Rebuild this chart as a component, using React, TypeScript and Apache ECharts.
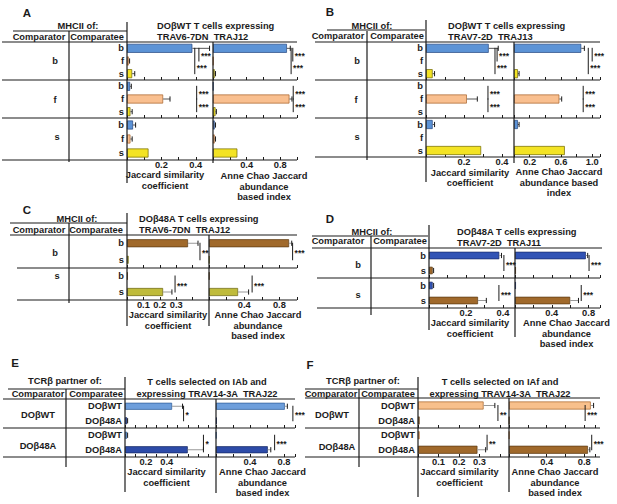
import React, { useEffect, useRef } from "react";
import * as echarts from "echarts";

const FONT = '"Liberation Sans", Arial, Helvetica, sans-serif';
const FS = 9.3;
const INK = "#1b1b1b";

// ---------- categories ----------
const rowsBFS = ["b", "f", "s"];
const rowsBS = ["b", "s"];
const rowsTCR = ["DOβWT", "DOβ48A"];

const jacName = "Jaccard similarity\ncoefficient";
const anneName = "Anne Chao Jaccard\nabundance\nbased index";
const anneNameB = "Anne Chao Jaccard\nabundance based\nindex";

// ---------- Panel A ----------
const aGroups = ["b", "f", "s"];
const aJac = [[0.38, 0.01, 0.03], [0.018, 0.21, 0.02], [0.035, 0.02, 0.125]];
const aJacErr = [[0.48, 0.015, 0.045], [0.025, 0.25, 0.03], [0.05, 0.03, 0.125]];
const aAnne = [[0.88, 0.005, 0.02], [0.005, 0.91, 0.03], [0.02, 0.02, 0.29]];
const aAnneErr = [[0.92, 0.005, 0.03], [0.005, 0.94, 0.04], [0.03, 0.03, 0.29]];
const aJacSig = [[0, 0, 1, 0.418, "***"], [0, 0, 2, 0.394, "***"], [1, 1, 0, 0.405, "***"], [1, 1, 2, 0.405, "***"]];
const aAnneSig = [[0, 0, 1, 0.95, "***"], [0, 0, 2, 0.93, "***"], [1, 1, 0, 0.955, "***"], [1, 1, 2, 0.955, "***"]];
const aJacTicks = ["0.2", "0.4"];
const aAnneTicks = ["0.4", "0.8"];

// ---------- Panel B ----------
const bGroups = ["b", "f", "s"];
const bJac = [[0.33, 0, 0.035], [0, 0.215, 0], [0.035, 0, 0.29]];
const bJacErr = [[0.38, 0, 0.045], [0, 0.27, 0], [0.045, 0, 0.29]];
const bAnne = [[0.86, 0, 0.05], [0, 0.58, 0], [0.05, 0, 0.65]];
const bAnneErr = [[0.9, 0, 0.065], [0, 0.61, 0], [0.065, 0, 0.65]];
const bJacSig = [[0, 0, 1, 0.374, "***"], [0, 0, 2, 0.363, "***"], [1, 1, 0, 0.326, "***"], [1, 1, 2, 0.326, "***"]];
const bAnneSig = [[0, 0, 1, 1.0, "***"], [0, 0, 2, 0.95, "***"], [1, 1, 0, 0.885, "***"], [1, 1, 2, 0.885, "***"]];
const bJacTicks = ["0.2", "0.4"];
const bAnneTicks = ["0.2", "0.6", "1.0"];

// ---------- Panel C ----------
const cGroups = ["b", "s"];
const cJac = [[0.372, 0.01], [0.005, 0.22]];
const cJacErr = [[0.433, 0.01], [0.005, 0.274]];
const cAnne = [[0.91, 0.005], [0.005, 0.33]];
const cAnneErr = [[0.94, 0.005], [0.005, 0.45]];
const cJacSig = [[0, 0, 1, 0.445, "**"], [1, 0, 1, 0.293, "***"]];
const cAnneSig = [[0, 0, 1, 0.95, "***"], [1, 0, 1, 0.49, "***"]];
const cJacTicks = ["0.1", "0.2", "0.3"];
const cAnneTicks = ["0.4", "0.8"];

// ---------- Panel D ----------
const dGroups = ["b", "s"];
const dJac = [[0.38, 0.02], [0.02, 0.265]];
const dJacErr = [[0.392, 0.025], [0.025, 0.31]];
const dAnne = [[0.77, 0.01], [0.01, 0.6]];
const dAnneErr = [[0.79, 0.01], [0.01, 0.69]];
const dJacSig = [[0, 0, 1, 0.405, "***"], [1, 0, 1, 0.378, "***"]];
const dAnneSig = [[0, 0, 1, 0.805, "***"], [1, 0, 1, 0.72, "***"]];
const dJacTicks = ["0.2", "0.4"];
const dAnneTicks = ["0.4", "0.8"];

// ---------- Panel E ----------
const eGroups = ["DOβWT", "DOβ48A"];
const eJac = [[0.45, 0.02], [0.02, 0.6]];
const eJacErr = [[0.55, 0.025], [0.025, 0.75]];
const eAnne = [[0.81, 0.01], [0.005, 0.61]];
const eAnneErr = [[0.84, 0.01], [0.005, 0.645]];
const eJacSig = [[0, 0, 1, 0.56, "*"], [1, 0, 1, 0.75, "*"]];
const eAnneSig = [[0, 0, 1, 0.905, "***"], [1, 0, 1, 0.69, "***"]];
const eJacTicks = ["0.2", "0.4"];
const eAnneTicks = ["0.4", "0.8"];

// ---------- Panel F ----------
const fGroups = ["DOβWT", "DOβ48A"];
const fJac = [[0.32, 0.008], [0.008, 0.29]];
const fJacErr = [[0.375, 0.008], [0.008, 0.33]];
const fAnne = [[0.87, 0.003], [0.003, 0.84]];
const fAnneErr = [[0.9, 0.003], [0.003, 0.86]];
const fJacSig = [[0, 0, 1, 0.39, "**"], [1, 0, 1, 0.337, "**"]];
const fAnneSig = [[0, 0, 1, 0.81, "***"], [1, 0, 1, 0.88, "***"]];
const fJacTicks = ["0.1", "0.2", "0.3"];
const fAnneTicks = ["0.4", "0.8"];

// ---------- styles ----------
const BLUE = ["#5c93d6", "#22457f"];
const ORANGE = ["#f9bf8f", "#a5622a"];
const YELLOW = ["#f3e324", "#6f6600"];
const BROWN = ["#a0692b", "#5a3912"];
const OLIVE = ["#bfbb3b", "#68630f"];
const ROYAL = ["#3153b5", "#1a2c6b"];
const LBLUE = ["#6d9edb", "#2d5a97"];
const DBLUE = ["#2d4ba8", "#172a63"];
const LORANGE = ["#f8c08c", "#a6642a"];

type T = [string, number, number, string, number?];

const panels: any[] = [
  {
    rows: rowsBFS, groups: aGroups, jac: aJac, jacErr: aJacErr, anne: aAnne, anneErr: aAnneErr,
    jacSig: aJacSig, anneSig: aAnneSig, jacTicks: aJacTicks, anneTicks: aAnneTicks, anneName,
    colors: [BLUE, ORANGE, YELLOW],
    L: { x0: 127, xm: 213, x1: 297, ys: [42, 80, 118, 160], jMax: 0.5, aMax: 1.0, jInt: 0.1, aInt: 0.2, barW: 9, labelShift: 4, jGap: 8, aGap: 11, jShift: -5, aShift: 9, errColor: "#555" },
    groupPos: [[55, 61], [55, 100], [57, 137]],
    lines: [[13, 31, 127, 31], [2, 42, 297, 42], [2, 80, 297, 80], [2, 118, 297, 118], [2, 160, 297, 160], [127, 22, 127, 183], [69, 31, 69, 162], [213, 42, 213, 163]],
    texts: [["A", 27, 13, "center", 11.5], ["MHCII of:", 78, 26, "center"], ["Comparator", 39, 37, "center"], ["Comparatee", 97, 37, "center"], ["DOβWT T cells expressing", 157, 26, "left"], ["TRAV6-7DN  TRAJ12", 157, 37, "left"]] as T[],
  },
  {
    rows: rowsBFS, groups: bGroups, jac: bJac, jacErr: bJacErr, anne: bAnne, anneErr: bAnneErr,
    jacSig: bJacSig, anneSig: bAnneSig, jacTicks: bJacTicks, anneTicks: bAnneTicks, anneName: anneNameB,
    colors: [BLUE, ORANGE, YELLOW],
    L: { x0: 426, xm: 514, x1: 600, ys: [42, 80, 118, 157], jMax: 0.463, aMax: 1.1, jInt: 0.1, aInt: 0.2, barW: 9, labelShift: 2, jGap: 10.5, aGap: 9.5, jShift: 0, aShift: 2, errColor: "#555" },
    groupPos: [[357, 61], [356, 100], [357, 137]],
    lines: [[327, 30, 425, 30], [315, 42, 600, 42], [315, 80, 600, 80], [315, 118, 600, 118], [315, 157, 600, 157], [426, 20, 426, 182], [367, 31, 367, 160], [514, 42, 514, 163]],
    texts: [["B", 330, 12, "center", 11.5], ["MHCII of:", 372, 26, "center"], ["Comparator", 338, 36, "center"], ["Comparatee", 397, 36, "center"], ["DOβWT T cells expressing", 448, 26, "left"], ["TRAV7-2D  TRAJ13", 448, 37, "left"]] as T[],
  },
  {
    rows: rowsBS, groups: cGroups, jac: cJac, jacErr: cJacErr, anne: cAnne, anneErr: cAnneErr,
    jacSig: cJacSig, anneSig: cAnneSig, jacTicks: cJacTicks, anneTicks: cAnneTicks, anneName,
    colors: [BROWN, OLIVE],
    L: { x0: 127, xm: 209, x1: 297, ys: [235, 268, 300], jMax: 0.5, aMax: 1.0, jInt: 0.1, aInt: 0.2, barW: 8, labelShift: 0, jGap: 9.8, aGap: 9.8, jShift: 0, aShift: 5, errColor: "#999" },
    groupPos: [[55, 253], [57, 276]],
    lines: [[10, 223, 127, 223], [10, 235, 297, 235], [17, 268, 297, 268], [17, 300, 297, 300], [127, 213, 127, 326], [69, 223, 69, 303], [209, 235, 209, 326]],
    texts: [["C", 27, 210, "center", 11.5], ["MHCII of:", 77, 219, "center"], ["Comparator", 39, 230, "center"], ["Comparatee", 96, 230, "center"], ["DOβ48A T cells expressing", 139, 219, "left"], ["TRAV6-7DN  TRAJ12", 139, 230, "left"]] as T[],
  },
  {
    rows: rowsBS, groups: dGroups, jac: dJac, jacErr: dJacErr, anne: dAnne, anneErr: dAnneErr,
    jacSig: dJacSig, anneSig: dAnneSig, jacTicks: dJacTicks, anneTicks: dAnneTicks, anneName,
    colors: [ROYAL, BROWN],
    L: { x0: 429, xm: 515, x1: 600, ys: [248, 278, 308], jMax: 0.465, aMax: 0.924, jInt: 0.1, aInt: 0.2, barW: 7.5, labelShift: 0, jGap: 9.8, aGap: 9.8, jShift: -2, aShift: 9, errColor: "#999" },
    groupPos: [[358, 265], [358, 295]],
    lines: [[312, 236, 428, 236], [312, 248, 602, 248], [317, 278, 600, 278], [317, 308, 600, 308], [429, 225, 429, 330], [371, 236, 371, 315], [515, 248, 515, 337]],
    texts: [["D", 330, 219, "center", 11.5], ["MHCII of:", 372, 232, "center"], ["Comparator", 338, 241, "center"], ["Comparatee", 400, 241, "center"], ["DOβ48A T cells expressing", 457, 232, "left"], ["TRAV7-2D  TRAJ11", 457, 243, "left"]] as T[],
  },
  {
    rows: rowsTCR, groups: eGroups, jac: eJac, jacErr: eJacErr, anne: eAnne, anneErr: eAnneErr,
    jacSig: eJacSig, anneSig: eAnneSig, jacTicks: eJacTicks, anneTicks: eAnneTicks, anneName,
    colors: [LBLUE, DBLUE],
    L: { x0: 125, xm: 216, x1: 295, ys: [399, 428, 457], jMax: 0.87, aMax: 0.93, jInt: 0.1, aInt: 0.2, barW: 7, labelShift: 0, jGap: 9.8, aGap: 7, jShift: -4, aShift: 7, errColor: "#999" },
    groupPos: [[38, 415], [38, 446]],
    lines: [[8, 389, 125, 389], [3, 399, 295, 399], [3, 428, 295, 428], [3, 457, 295, 457], [125, 377, 125, 492], [66, 389, 66, 467], [216, 399, 216, 493]],
    texts: [["E", 15, 363, "center", 11.5], ["TCRβ partner of:", 65, 381, "center"], ["Comparator", 38, 394, "center"], ["Comparatee", 96, 394, "center"], ["T cells selected on IAb and", 207, 382, "center"], ["expressing TRAV14-3A  TRAJ22", 207, 394, "center"]] as T[],
  },
  {
    rows: rowsTCR, groups: fGroups, jac: fJac, jacErr: fJacErr, anne: fAnne, anneErr: fAnneErr,
    jacSig: fJacSig, anneSig: fAnneSig, jacTicks: fJacTicks, anneTicks: fAnneTicks, anneName,
    colors: [LORANGE, BROWN],
    L: { x0: 418, xm: 509, x1: 595, ys: [398, 428, 457], jMax: 0.444, aMax: 0.915, jInt: 0.1, aInt: 0.2, barW: 8, labelShift: 0, jGap: 9, aGap: 7, jShift: -4, aShift: 3, errColor: "#999" },
    groupPos: [[332, 415], [337, 447]],
    lines: [[305, 389, 418, 389], [305, 398, 600, 398], [305, 428, 600, 428], [305, 457, 600, 457], [418, 377, 418, 497], [359, 389, 359, 467], [509, 398, 509, 492]],
    texts: [["F", 310, 365, "center", 11.5], ["TCRβ partner of:", 363, 381, "center"], ["Comparator", 331, 394, "center"], ["Comparatee", 388, 394, "center"], ["T cells selected on IAf and", 500, 382, "center"], ["expressing TRAV14-3A  TRAJ22", 500, 394, "center"]] as T[],
  },
];

const font = (s: number) => `bold ${s}px ${FONT}`;

function textEl(text: string, x: number, y: number, align: string, size = FS) {
  return {
    type: "text", x, y, silent: true, z: 10,
    style: { text, fill: INK, font: font(size), align, verticalAlign: "middle", textAlign: align, textVerticalAlign: "middle" },
  };
}

function buildOption() {
  const grid: any[] = [];
  const xAxis: any[] = [];
  const yAxis: any[] = [];
  const series: any[] = [];
  const graphic: any[] = [];

  panels.forEach((p) => {
    const L = p.L;
    p.lines.forEach((l: number[]) =>
      graphic.push({ type: "line", silent: true, z: 5, shape: { x1: l[0], y1: l[1], x2: l[2], y2: l[3] }, style: { stroke: INK, lineWidth: 1.2 } })
    );
    p.texts.forEach((t: T) => graphic.push(textEl(t[0], t[1], t[2], t[3], t[4] ?? FS)));
    p.groups.forEach((g: string, gi: number) => graphic.push(textEl(g, p.groupPos[gi][0], p.groupPos[gi][1], "center")));

    const nG = p.groups.length;
    for (let g = 0; g < nG; g++) {
      for (let k = 0; k < 2; k++) {
        const idx = grid.length;
        const left = k === 0 ? L.x0 : L.xm;
        const right = k === 0 ? L.xm : L.x1;
        const last = g === nG - 1;
        const shown: string[] = k === 0 ? p.jacTicks : p.anneTicks;
        const shift = k === 0 ? L.jShift : L.aShift;
        grid.push({ left, top: L.ys[g], width: right - left, height: L.ys[g + 1] - L.ys[g] });
        xAxis.push({
          type: "value", gridIndex: idx, min: 0, max: k === 0 ? L.jMax : L.aMax,
          interval: k === 0 ? L.jInt : L.aInt, position: "bottom",
          axisLine: { show: false },
          axisTick: { show: true, inside: true, length: 3, lineStyle: { color: INK, width: 1 } },
          splitLine: { show: false },
          axisLabel: {
            show: last, margin: 0, verticalAlign: "top", fontSize: FS, fontWeight: "bold", fontFamily: FONT, color: INK,
            formatter: (v: number) => (shown.includes(v.toFixed(1)) ? v.toFixed(1) : ""),
          },
          name: last ? (k === 0 ? jacName : p.anneName) : "",
          nameLocation: "middle",
          nameGap: k === 0 ? L.jGap : L.aGap,
          nameTextStyle: {
            fontSize: FS, fontWeight: "bold", fontFamily: FONT, color: INK, lineHeight: 10.5,
            padding: shift >= 0 ? [0, 0, 0, 2 * shift] : [0, -2 * shift, 0, 0],
          },
        });
        yAxis.push({
          type: "category", gridIndex: idx, inverse: true, data: p.rows,
          axisLine: { show: false }, axisTick: { show: false }, splitLine: { show: false },
          axisLabel: {
            show: k === 0, margin: 3, fontSize: FS, fontWeight: "bold", fontFamily: FONT, color: INK,
            padding: [2 * L.labelShift, 0, 0, 0],
          },
        });
        const vals: number[] = (k === 0 ? p.jac : p.anne)[g];
        const errs: number[] = (k === 0 ? p.jacErr : p.anneErr)[g];
        series.push({
          type: "bar", xAxisIndex: idx, yAxisIndex: idx, barWidth: L.barW, silent: true, z: 2,
          data: vals.map((v, i) => ({
            value: v,
            itemStyle: { color: p.colors[i][0], borderColor: p.colors[i][1], borderWidth: v > 0 ? 0.7 : 0 },
          })),
        });
        const errData = vals.map((v, i) => [v, i, errs[i]]).filter((d) => d[2] > d[0] + 1e-6);
        if (errData.length) {
          series.push({
            type: "custom", xAxisIndex: idx, yAxisIndex: idx, silent: true, clip: false, z: 3,
            data: errData,
            renderItem: (_params: any, api: any) => {
              const p0 = api.coord([api.value(0), api.value(1)]);
              const p1 = api.coord([api.value(2), api.value(1)]);
              return {
                type: "group",
                children: [
                  { type: "line", shape: { x1: p0[0], y1: p0[1], x2: p1[0], y2: p1[1] }, style: { stroke: L.errColor, lineWidth: 1 } },
                  { type: "line", shape: { x1: p1[0], y1: p1[1] - 2.6, x2: p1[0], y2: p1[1] + 2.6 }, style: { stroke: INK, lineWidth: 1 } },
                ],
              };
            },
          });
        }
        const sigs = (k === 0 ? p.jacSig : p.anneSig).filter((s: any[]) => s[0] === g);
        if (sigs.length) {
          const labels = sigs.map((s: any[]) => s[4]);
          series.push({
            type: "custom", xAxisIndex: idx, yAxisIndex: idx, silent: true, clip: false, z: 4,
            data: sigs.map((s: any[]) => [s[3], s[1], s[2]]),
            renderItem: (params: any, api: any) => {
              const ra = api.value(1), rb = api.value(2);
              const pa = api.coord([api.value(0), ra]);
              const pb = api.coord([api.value(0), rb]);
              const span = Math.abs(rb - ra);
              const dir = pb[1] > pa[1] ? 1 : -1;
              const y1 = pa[1] - dir * 0.5;
              const y2 = pb[1] + dir * 0.5;
              const ly = pa[1] + (pb[1] - pa[1]) * (span > 1 ? 0.72 : 0.5) + 1.5;
              return {
                type: "group",
                children: [
                  { type: "line", shape: { x1: pa[0], y1, x2: pa[0], y2 }, style: { stroke: INK, lineWidth: 1 } },
                  {
                    type: "text",
                    style: {
                      text: labels[params.dataIndex], x: pa[0] + 2, y: ly, fill: INK, font: font(8.5),
                      align: "left", verticalAlign: "middle", textAlign: "left", textVerticalAlign: "middle",
                    },
                  },
                ],
              };
            },
          });
        }
      }
    }
  });

  return {
    animation: false,
    backgroundColor: "#ffffff",
    textStyle: { fontFamily: FONT },
    grid, xAxis, yAxis, series, graphic,
  };
}

export default function App() {
  const ref = useRef<HTMLDivElement>(null);
  useEffect(() => {
    if (!ref.current) return;
    const chart = echarts.init(ref.current, undefined, { renderer: "svg" });
    chart.setOption(buildOption() as any);
    return () => chart.dispose();
  }, []);
  return <div ref={ref} style={{ position: "absolute", left: 0, top: 0, width: 617, height: 504 }} />;
}
